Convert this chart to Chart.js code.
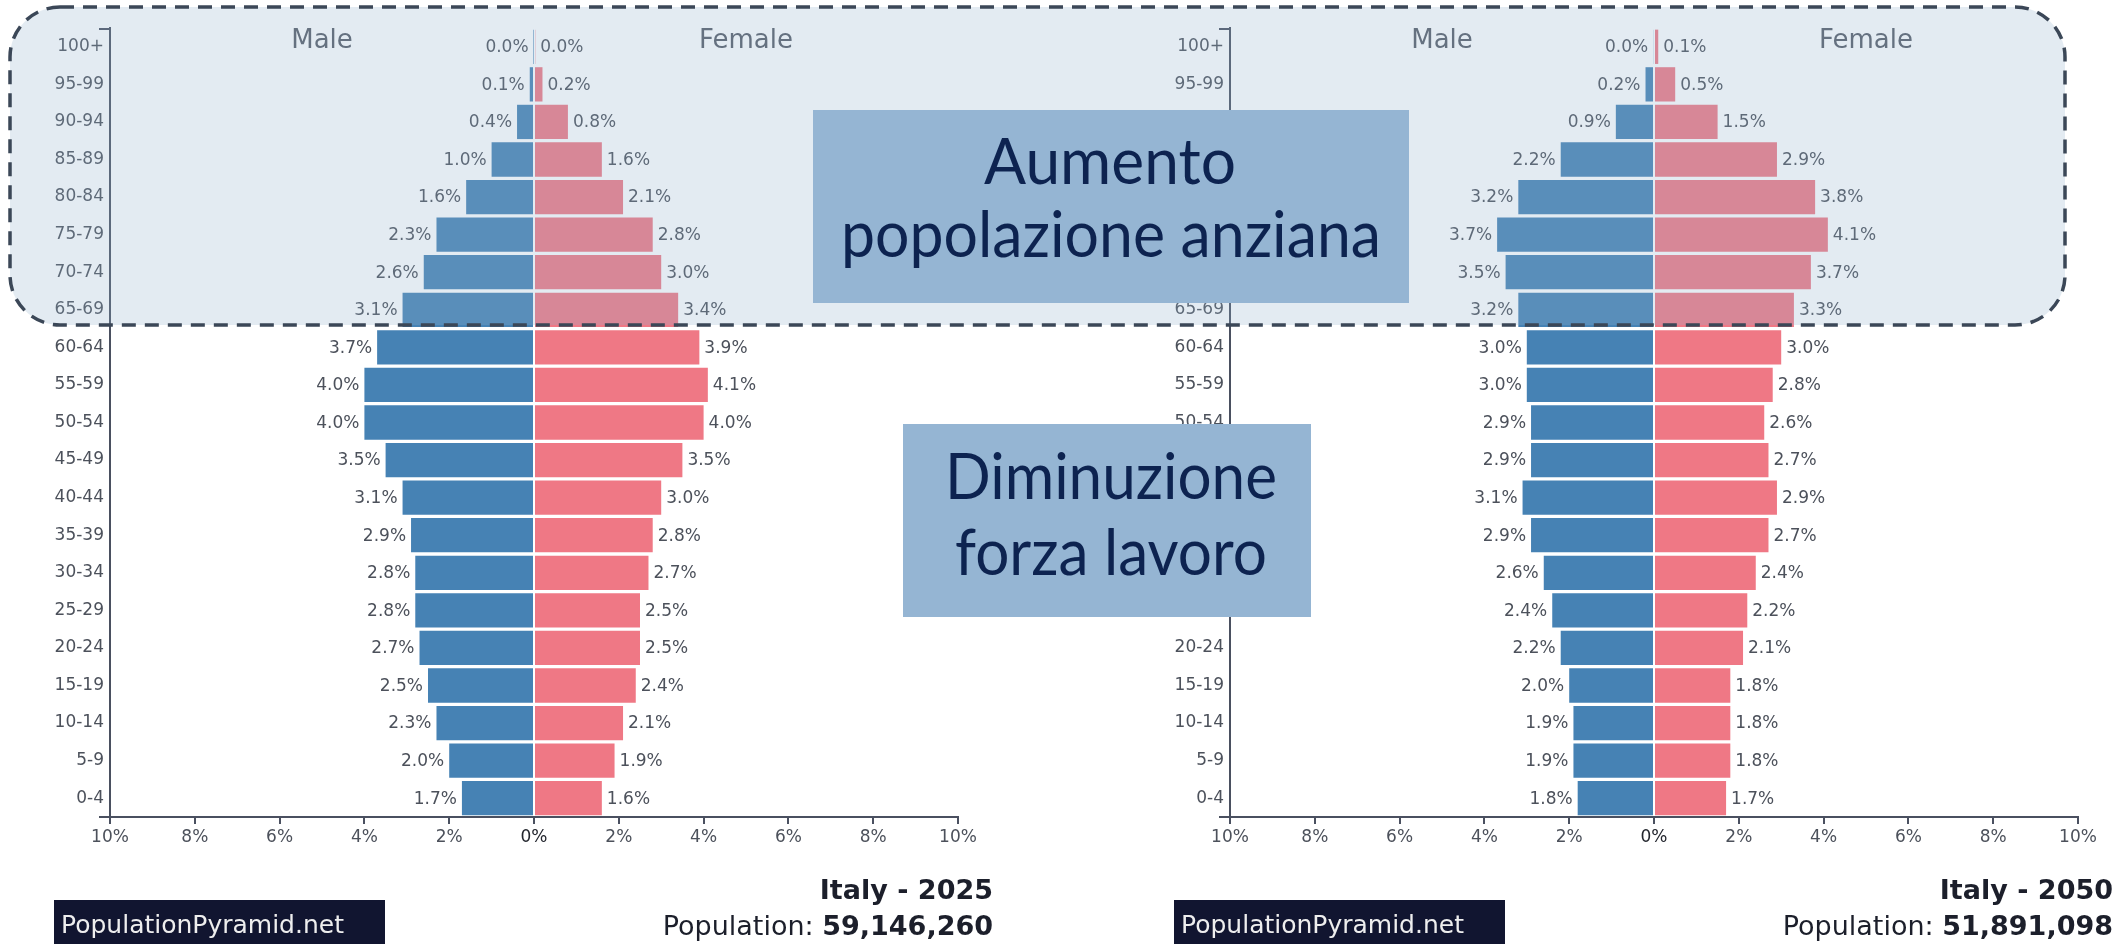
<!DOCTYPE html>
<html>
<head>
<meta charset="utf-8">
<script src="https://cdn.jsdelivr.net/npm/chart.js@4.4.1/dist/chart.umd.min.js"></script>
<style>
html, body { margin: 0; padding: 0; background: #fff; }
body { width: 2112px; height: 944px; position: relative; overflow: hidden; }
canvas, svg { position: absolute; left: 0; top: 0; }
</style>
</head>
<body>
<canvas id="pyr2025" width="2112" height="944" style="width:2112px;height:944px"></canvas>
<canvas id="pyr2050" width="2112" height="944" style="width:2112px;height:944px"></canvas>

<svg width="2112" height="944" viewBox="0 0 2112 944">
  <rect x="10" y="7" width="2055" height="318" rx="50" ry="50"
        fill="rgba(147,178,205,0.26)" stroke="#3b4757" stroke-width="3.5" stroke-dasharray="14 9"/>
  <rect x="813" y="110" width="596" height="193" fill="#95b5d3"/>
  <text x="1110" y="184" font-family="Lato" font-size="64" fill="#0d2350" text-anchor="middle"
        textLength="252" lengthAdjust="spacingAndGlyphs">Aumento</text>
  <text x="1111" y="257" font-family="Lato" font-size="64" fill="#0d2350" text-anchor="middle"
        textLength="540" lengthAdjust="spacingAndGlyphs">popolazione anziana</text>
  <rect x="903" y="424" width="408" height="193" fill="#95b5d3"/>
  <text x="1111" y="499" font-family="Lato" font-size="64" fill="#0d2350" text-anchor="middle"
        textLength="332" lengthAdjust="spacingAndGlyphs">Diminuzione</text>
  <text x="1111" y="575" font-family="Lato" font-size="64" fill="#0d2350" text-anchor="middle"
        textLength="312" lengthAdjust="spacingAndGlyphs">forza lavoro</text>
</svg>

<script>
// age groups, top to bottom
const ageGroups = ['100+', '95-99', '90-94', '85-89', '80-84', '75-79', '70-74', '65-69',
  '60-64', '55-59', '50-54', '45-49', '40-44', '35-39', '30-34', '25-29',
  '20-24', '15-19', '10-14', '5-9', '0-4'];

// share of total population, %
const male2025 = [0.01, 0.1, 0.4, 1.0, 1.6, 2.3, 2.6, 3.1, 3.7, 4.0, 4.0, 3.5, 3.1, 2.9, 2.8, 2.8, 2.7, 2.5, 2.3, 2.0, 1.7];
const female2025 = [0.03, 0.2, 0.8, 1.6, 2.1, 2.8, 3.0, 3.4, 3.9, 4.1, 4.0, 3.5, 3.0, 2.8, 2.7, 2.5, 2.5, 2.4, 2.1, 1.9, 1.6];
const male2050 = [0.02, 0.2, 0.9, 2.2, 3.2, 3.7, 3.5, 3.2, 3.0, 3.0, 2.9, 2.9, 3.1, 2.9, 2.6, 2.4, 2.2, 2.0, 1.9, 1.9, 1.8];
const female2050 = [0.1, 0.5, 1.5, 2.9, 3.8, 4.1, 3.7, 3.3, 3.0, 2.8, 2.6, 2.7, 2.9, 2.7, 2.4, 2.2, 2.1, 1.8, 1.8, 1.8, 1.7];

const xTicksMin = -10;
const xTicksMax = 10;
const xTickStep = 2;

const title2025 = 'Italy - 2025';
const population2025 = '59,146,260';
const title2050 = 'Italy - 2050';
const population2050 = '51,891,098';
const siteName = 'PopulationPyramid.net';

const maleColor = '#4682b4';
const femaleColor = '#ef7885';
const axisColor = '#4a5060';
const labelColor = '#4c515b';
const FONT = '"DejaVu Sans"';

const pyramidDecor = {
    id: 'pyramidDecor',
    afterDraw(chart, args, opts) {
        const ctx = chart.ctx;
        const area = chart.chartArea;
        const zero = chart.scales.x.getPixelForValue(0);
        ctx.save();

        // outer ticks of the age axis
        ctx.strokeStyle = axisColor;
        ctx.lineWidth = 2;
        ctx.beginPath();
        ctx.moveTo(area.left - 11, area.top + 1);
        ctx.lineTo(area.left, area.top + 1);
        ctx.moveTo(area.left - 11, area.bottom);
        ctx.lineTo(area.left, area.bottom);
        ctx.stroke();

        // Male / Female headers
        ctx.font = '26px ' + FONT;
        ctx.fillStyle = '#555b66';
        ctx.textAlign = 'center';
        ctx.textBaseline = 'alphabetic';
        ctx.fillText('Male', (area.left + zero) / 2, 48);
        ctx.fillText('Female', (zero + area.right) / 2, 48);

        // value labels at the end of each bar
        ctx.font = '17px ' + FONT;
        ctx.fillStyle = labelColor;
        ctx.textBaseline = 'middle';
        chart.data.datasets.forEach((ds, i) => {
            const raw = opts.values[i];
            chart.getDatasetMeta(i).data.forEach((bar, j) => {
                const txt = raw[j].toFixed(1) + '%';
                if (i === 0) {
                    ctx.textAlign = 'right';
                    ctx.fillText(txt, bar.x - 5, bar.y + 1);
                } else {
                    ctx.textAlign = 'left';
                    ctx.fillText(txt, bar.x + 5, bar.y + 1);
                }
            });
        });

        // footer
        const boxLeft = area.left - 56;
        ctx.fillStyle = '#111530';
        ctx.fillRect(boxLeft, 900, 331, 44);
        ctx.fillStyle = '#eeeeee';
        ctx.textAlign = 'left';
        ctx.textBaseline = 'alphabetic';
        ctx.font = '25px ' + FONT;
        ctx.fillText(siteName, boxLeft + 7, 933);

        const right = area.right + 35;
        ctx.fillStyle = '#1c1f2b';
        ctx.textAlign = 'right';
        ctx.font = 'bold 27px ' + FONT;
        ctx.fillText(opts.title, right, 899);
        ctx.font = 'bold 27px ' + FONT;
        ctx.fillText(opts.population, right, 935);
        const w = ctx.measureText(opts.population).width;
        ctx.font = '27px ' + FONT;
        ctx.fillText('Population: ', right - w, 935);

        ctx.restore();
    }
};

function makePyramid(id, male, female, padLeft, padRight, title, population) {
    const ctx = document.getElementById(id).getContext('2d');
    return new Chart(ctx, {
        type: 'bar',
        data: {
            labels: ageGroups,
            datasets: [
                { label: 'Male', data: male.map(v => -v), backgroundColor: maleColor,
                  barPercentage: 0.913, categoryPercentage: 1.0 },
                { label: 'Female', data: female, backgroundColor: femaleColor,
                  barPercentage: 0.913, categoryPercentage: 1.0 }
            ]
        },
        options: {
            indexAxis: 'y',
            responsive: false,
            animation: false,
            devicePixelRatio: 1,
            layout: { padding: { left: padLeft, right: padRight, top: 28, bottom: 0 } },
            plugins: {
                legend: { display: false },
                tooltip: { enabled: false },
                pyramidDecor: { values: [male, female], title: title, population: population }
            },
            scales: {
                x: {
                    min: xTicksMin,
                    max: xTicksMax,
                    stacked: true,
                    ticks: {
                        stepSize: xTickStep,
                        autoSkip: false,
                        maxRotation: 0,
                        padding: 3,
                        font: { family: 'DejaVu Sans', size: 17 },
                        color: c => (c.tick && c.tick.value === 0) ? '#23262e' : labelColor,
                        callback: v => Math.abs(v) + '%'
                    },
                    grid: { drawOnChartArea: false, drawTicks: true, tickLength: 7,
                            color: axisColor, lineWidth: 2 },
                    border: { display: true, color: axisColor, width: 2 },
                    afterFit(scale) { scale.height = 127; }
                },
                y: {
                    stacked: true,
                    ticks: { padding: 6, font: { family: 'DejaVu Sans', size: 17 }, color: labelColor },
                    grid: { display: false, drawTicks: false },
                    border: { display: true, color: axisColor, width: 2 },
                    afterFit(scale) { scale.width = 110; }
                }
            }
        },
        plugins: [pyramidDecor]
    });
}

makePyramid('pyr2025', male2025, female2025, 0, 2112 - 958, title2025, population2025);
makePyramid('pyr2050', male2050, female2050, 1120, 2112 - 2078, title2050, population2050);
</script>
</body>
</html>
